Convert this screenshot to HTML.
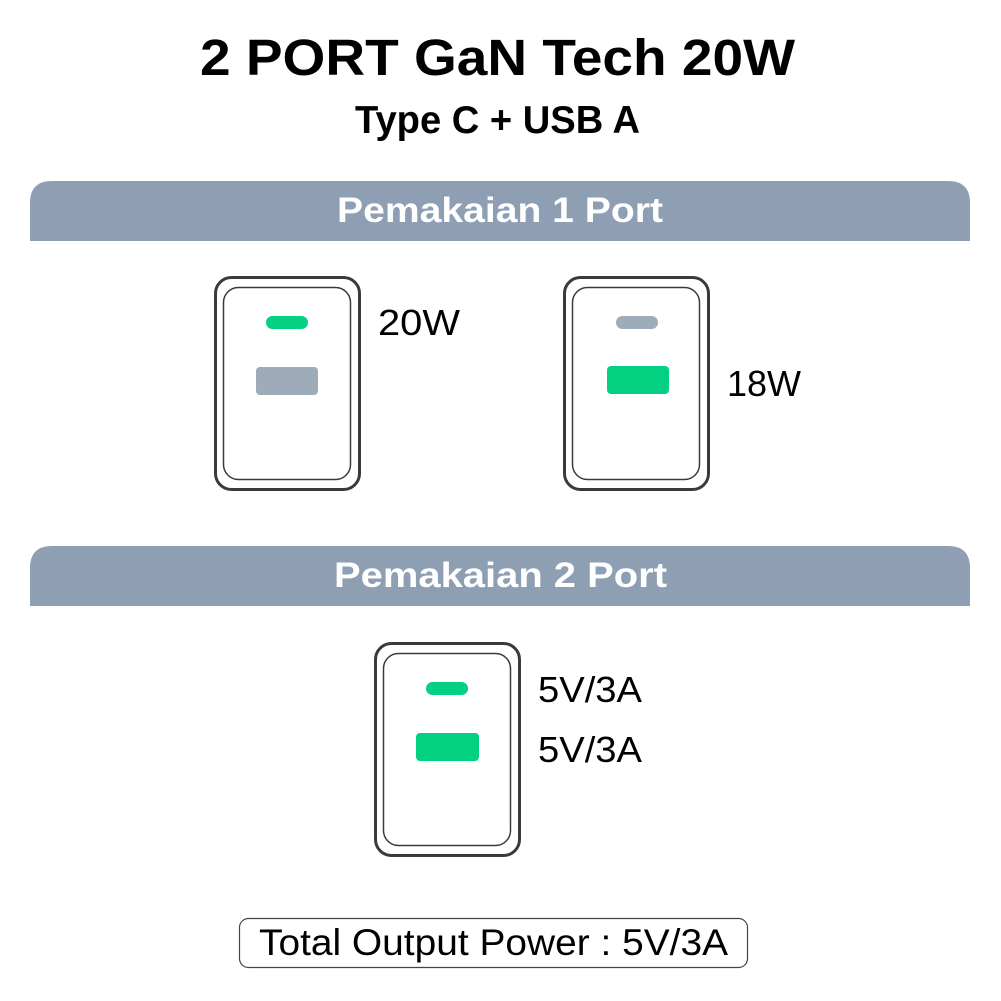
<!DOCTYPE html>
<html><head><style>html,body{margin:0;padding:0;background:#fff}svg{display:block}</style></head>
<body>
<svg width="1001" height="1001" viewBox="0 0 1001 1001" xmlns="http://www.w3.org/2000/svg" font-family="Liberation Sans, sans-serif">
<rect width="1001" height="1001" fill="#fff"/>
<text x="200" y="75" font-size="51" font-weight="bold" textLength="595" lengthAdjust="spacingAndGlyphs">2 PORT GaN Tech 20W</text>
<text x="355" y="133" font-size="39" font-weight="bold" textLength="285" lengthAdjust="spacingAndGlyphs">Type C + USB A</text>

<path d="M30 241 V203 Q30 181 52 181 H948 Q970 181 970 203 V241 Z" fill="#8e9fb3"/>
<text x="337" y="222" font-size="35" font-weight="bold" fill="#fff" textLength="326" lengthAdjust="spacingAndGlyphs">Pemakaian 1 Port</text>
<path d="M30 606 V568 Q30 546 52 546 H948 Q970 546 970 568 V606 Z" fill="#8e9fb3"/>
<text x="334" y="587" font-size="35" font-weight="bold" fill="#fff" textLength="333" lengthAdjust="spacingAndGlyphs">Pemakaian 2 Port</text>

<g fill="none" stroke="#3a3a3a">
<rect x="215.5" y="277.5" width="144" height="212" rx="16" stroke-width="3"/>
<rect x="223.5" y="287.5" width="127" height="192" rx="15" stroke-width="1.5"/>
<rect x="564.5" y="277.5" width="144" height="212" rx="16" stroke-width="3"/>
<rect x="572.5" y="287.5" width="127" height="192" rx="15" stroke-width="1.5"/>
<rect x="375.5" y="643.5" width="144" height="212" rx="16" stroke-width="3"/>
<rect x="383.5" y="653.5" width="127" height="192" rx="15" stroke-width="1.5"/>
</g>
<rect x="266" y="316" width="42" height="13" rx="6.5" fill="#04d082"/>
<rect x="256" y="367" width="62" height="28" rx="4" fill="#9eabb9"/>
<rect x="616" y="316" width="42" height="13" rx="6.5" fill="#9eabb9"/>
<rect x="607" y="366" width="62" height="28" rx="4" fill="#04d082"/>
<rect x="426" y="682" width="42" height="13" rx="6.5" fill="#04d082"/>
<rect x="416" y="733" width="63" height="28" rx="4" fill="#04d082"/>

<g font-size="36" fill="#000">
<text x="378" y="335" textLength="82" lengthAdjust="spacingAndGlyphs">20W</text>
<text x="727" y="396" textLength="74" lengthAdjust="spacingAndGlyphs">18W</text>
<text x="538" y="702" textLength="104" lengthAdjust="spacingAndGlyphs">5V/3A</text>
<text x="538" y="762" textLength="104" lengthAdjust="spacingAndGlyphs">5V/3A</text>
</g>

<rect x="239.5" y="918.5" width="508" height="49" rx="9" fill="none" stroke="#444" stroke-width="1.2"/>
<text x="259" y="955" font-size="37" textLength="469" lengthAdjust="spacingAndGlyphs">Total Output Power : 5V/3A</text>
</svg>
</body></html>
